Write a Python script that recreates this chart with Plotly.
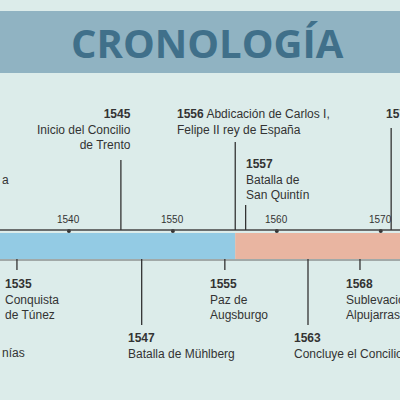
import plotly.graph_objects as go

ticks = [1540, 1550, 1560, 1570]
reigns = [("CARLOS I", 1530, 1556, "#93cbe4"), ("", 1556, 1575, "#e9b5a1")]
above = [
    (1545, 160, 1546.2, "right", 113, ["Inicio del Concilio", "de Trento"]),
    (1556, 142, 1550.2, "left", 113, ["Abdicación de Carlos I,", "Felipe II rey de España"]),
    (1557, 205, 1556.8, "left", 163, ["Batalla de", "San Quintín"]),
    (1571, 128, 1570.3, "left", 113, []),
]
below = [
    (1535, 270, 1533.7, 283, ["Conquista", "de Túnez"]),
    (1547, 325, 1545.5, 337, ["Batalla de Mühlberg"]),
    (1555, 270, 1553.4, 283, ["Paz de", "Augsburgo"]),
    (1563, 325, 1561.5, 337, ["Concluye el Concilio de Trento"]),
    (1568, 270, 1566.5, 283, ["Sublevación de las", "Alpujarras"]),
]

X0, X1 = 1533.37, 1571.85
AX_Y, B0, B1 = 230, 233, 259
fnt = "Liberation Sans, Arial, sans-serif"
fig = go.Figure()
shapes, ann = [], []
shapes.append(dict(type="rect", xref="paper", yref="y", x0=0, x1=1, y0=11, y1=73,
                   fillcolor="#90b3c2", line_width=0, layer="below"))
ann.append(dict(x=0.518, xref="paper", y=42, text="<b>CRONOLOGÍA</b>", showarrow=False,
                font=dict(family="Open Sans, sans-serif", size=40, color="#40708a")))
for name, a, b, c in reigns:
    shapes.append(dict(type="rect", x0=a, x1=b, y0=B0, y1=B1, fillcolor=c, line_width=0, layer="below"))
    if name:
        ann.append(dict(x=X0 - 0.2, y=(B0 + B1) / 2, text="<b>" + name + "</b>", showarrow=False,
                        xanchor="left", font=dict(family=fnt, size=14, color="#222")))
shapes.append(dict(type="line", x0=X0, x1=X1, y0=AX_Y, y1=AX_Y, line=dict(color="#444", width=1.5)))
shapes.append(dict(type="line", x0=X0, x1=X1, y0=B1 + 1, y1=B1 + 1, line=dict(color="#666", width=1)))
fig.add_trace(go.Scatter(x=ticks, y=[AX_Y + 1] * len(ticks), mode="markers",
                         marker=dict(size=4, color="#333"), hoverinfo="skip"))
for t in ticks:
    ann.append(dict(x=t, y=219, text=str(t), showarrow=False, font=dict(family=fnt, size=10, color="#333")))

def lines_text(year, lines):
    return "<br>".join(["<b>%d</b>" % year] + lines)

for yr, top, lx, anch, ty, lines in above:
    shapes.append(dict(type="line", x0=yr, x1=yr, y0=AX_Y, y1=top, line=dict(color="#333", width=1.3)))
    if yr == 1556:
        txt = "<b>1556</b> " + lines[0] + "<br>" + lines[1]
    else:
        txt = lines_text(yr, lines)
    ann.append(dict(x=lx, y=ty - 8, text=txt, showarrow=False, xanchor=anch, yanchor="top",
                    align=anch, font=dict(family=fnt, size=12, color="#333")))
for yr, bot, lx, ty, lines in below:
    shapes.append(dict(type="line", x0=yr, x1=yr, y0=B1, y1=bot, line=dict(color="#333", width=1.3)))
    ann.append(dict(x=lx, y=ty - 8, text=lines_text(yr, lines), showarrow=False, xanchor="left",
                    yanchor="top", align="left", font=dict(family=fnt, size=12, color="#333")))
ann.append(dict(x=X0, y=180, text="a", showarrow=False, xanchor="left", font=dict(family=fnt, size=12, color="#333")))
ann.append(dict(x=X0, y=353, text="nías", showarrow=False, xanchor="left", font=dict(family=fnt, size=12, color="#333")))

fig.update_layout(width=400, height=400, margin=dict(l=0, r=0, t=0, b=0),
                  paper_bgcolor="#dcecea", plot_bgcolor="#dcecea", showlegend=False,
                  shapes=shapes, annotations=ann,
                  xaxis=dict(range=[X0, X1], visible=False),
                  yaxis=dict(range=[400, 0], visible=False))
html = fig.to_html(full_html=True, include_plotlyjs=True, config={"displayModeBar": False})
html = html.replace("<body>", "<body style=\"margin:0;overflow:hidden;background:#dcecea\">", 1)
with open("out.html", "w", encoding="utf-8") as f:
    f.write(html)
